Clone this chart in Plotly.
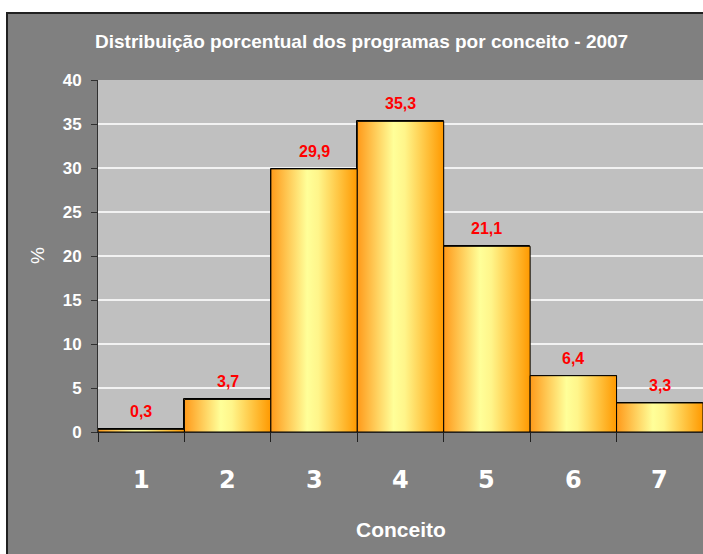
import plotly.graph_objects as go

categories = ["1", "2", "3", "4", "5", "6", "7"]
values = [0.3, 3.7, 29.9, 35.3, 21.1, 6.4, 3.3]
value_labels = ["0,3", "3,7", "29,9", "35,3", "21,1", "6,4", "3,3"]
y_ticks = [0, 5, 10, 15, 20, 25, 30, 35, 40]

FONT = "Arial, Liberation Sans, sans-serif"
xpos = list(range(1, len(categories) + 1))

fig = go.Figure()

# base bars (covered by gradient fills)
fig.add_trace(go.Bar(x=xpos, y=values, width=1.0,
                     marker=dict(color="#FFCC55", line=dict(color="black", width=1)),
                     hoverinfo="skip", showlegend=False))

grad = [[0.0, "#FF9A1A"], [0.42, "#FFFF99"], [0.55, "#FFF58A"], [1.0, "#FF9900"]]
for xi, v in zip(xpos, values):
    fig.add_trace(go.Scatter(
        x=[xi - 0.5, xi + 0.5, xi + 0.5, xi - 0.5, xi - 0.5],
        y=[0, 0, v, v, 0],
        mode="lines", fill="toself",
        fillgradient=dict(type="horizontal", colorscale=grad),
        line=dict(color="black", width=1),
        hoverinfo="skip", showlegend=False))

annotations = []
for xi, v, lab in zip(xpos, values, value_labels):
    annotations.append(dict(x=xi, y=v, xref="x", yref="y", text=lab, showarrow=False,
                            yanchor="bottom", yshift=7,
                            font=dict(family=FONT, size=16, color="#FF0000", weight="bold")))
for xi, c in zip(xpos, categories):
    annotations.append(dict(x=xi, y=-0.136, xref="x", yref="paper", text=c, showarrow=False,
                            yanchor="middle",
                            font=dict(family="DejaVu Sans, sans-serif", size=24, color="white", weight="bold")))
annotations.append(dict(x=0.5, y=-0.278, xref="paper", yref="paper", text="Conceito",
                        showarrow=False, yanchor="middle",
                        font=dict(family=FONT, size=21, color="white", weight="bold")))
annotations.append(dict(x=-0.1008, y=0.5, xref="paper", yref="paper", text="%", textangle=-90,
                        showarrow=False, xanchor="center", yanchor="middle",
                        font=dict(family=FONT, size=19, color="white")))
annotations.append(dict(x=0.436, y=1.108, xref="paper", yref="paper",
                        text="Distribuição porcentual dos programas por conceito - 2007",
                        showarrow=False, xanchor="center", yanchor="middle",
                        font=dict(family=FONT, size=19, color="white", weight="bold")))

shapes = [
    dict(type="rect", xref="paper", yref="paper", x0=-0.1504, x1=1.2, y0=-0.6, y1=1.1903,
         fillcolor="#808080", line=dict(color="#202020", width=2), layer="below"),
    dict(type="rect", xref="paper", yref="paper", x0=0, x1=1, y0=0, y1=1,
         fillcolor="#C0C0C0", line=dict(width=0), layer="below"),
]

fig.update_layout(
    width=703, height=554,
    margin=dict(l=98, r=0, t=80, b=122),
    paper_bgcolor="white", plot_bgcolor="rgba(0,0,0,0)",
    showlegend=False, bargap=0,
    annotations=annotations, shapes=shapes,
    xaxis=dict(range=[0.5, 7.5], tickvals=[x + 0.5 for x in range(0, 8)], ticktext=[""] * 8,
               ticks="outside", ticklen=9, tickcolor="#202020", tickwidth=1,
               showgrid=False, zeroline=False, showline=True, linecolor="#202020", linewidth=1),
    yaxis=dict(range=[0, 40], tickvals=y_ticks, ticks="outside", ticklen=6, tickcolor="#303030",
               ticklabelstandoff=6,
               tickfont=dict(family=FONT, size=17, color="white", weight="bold"),
               showgrid=True, gridcolor="#F2F2F2", gridwidth=1.5, zeroline=False,
               showline=True, linecolor="#303030", linewidth=1),
)

fig.write_html("out.html", config={"displayModeBar": False},
               post_script="document.body.style.margin='0';document.body.style.padding='0';document.body.style.overflow='hidden';")
